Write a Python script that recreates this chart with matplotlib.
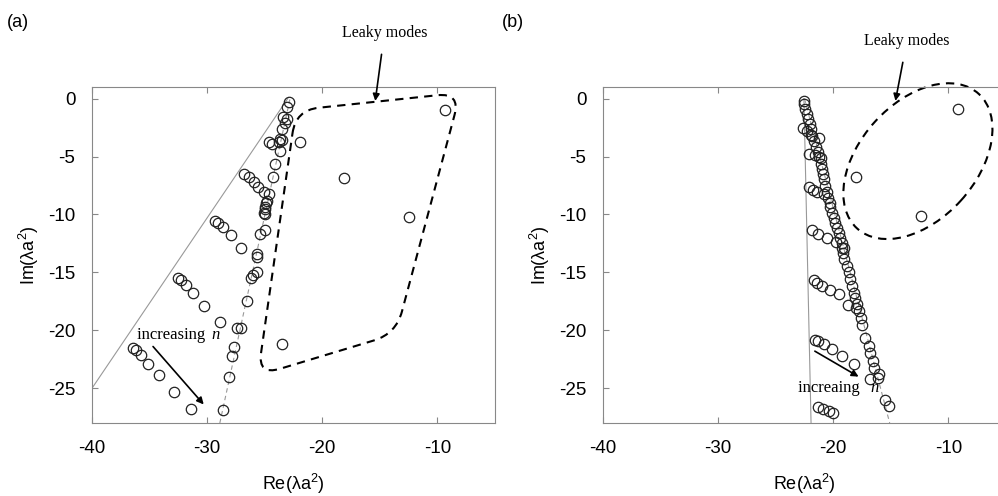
import numpy as np
import matplotlib
matplotlib.use('Agg')
import matplotlib.pyplot as plt
from matplotlib.path import Path
from matplotlib.patches import PathPatch, Ellipse

plt.rcParams['font.family'] = ['Liberation Sans', 'DejaVu Sans']
plt.rcParams['mathtext.fontset'] = 'custom'
plt.rcParams['mathtext.rm'] = 'Liberation Sans'
plt.rcParams['mathtext.it'] = 'Liberation Sans:italic'
plt.rcParams['axes.unicode_minus'] = False

# --- panel (a) eigenvalues ---
re_a = [-36.4, -36.17, -35.74, -35.1, -34.2, -32.9, -31.4,
        -32.5, -32.3, -31.8, -31.2, -30.3, -28.9,
        -29.3, -29.1, -28.6, -27.9, -27.1,
        -26.78, -26.4, -25.97, -25.6, -25.1,
        -24.67, -24.38, -23.8,
        -28.6, -28.1, -27.8, -27.7, -27.4, -27.1, -26.55, -26.2, -26.0, -25.7,
        -25.7, -25.7, -25.4, -25.0, -25.0, -25.0, -24.9, -24.67, -24.8, -24.96,
        -25.1, -24.3, -24.1, -23.7, -23.65, -23.5, -23.5, -23.2, -23.07, -23.4,
        -23.07, -22.93,
        -21.97, -23.5, -9.3, -18.15, -12.5]
im_a = [-21.5, -21.74, -22.15, -22.9, -23.9, -25.3, -26.8,
        -15.46, -15.7, -16.1, -16.8, -17.9, -19.3,
        -10.55, -10.7, -11.1, -11.8, -12.9,
        -6.5, -6.8, -7.24, -7.67, -8.1,
        -3.78, -3.92, -3.78,
        -26.85, -24.0, -22.2, -21.4, -19.8, -19.8, -17.5, -15.5, -15.2, -15.0,
        -13.4, -13.7, -11.7, -11.3, -10.0, -9.5, -9.0, -8.25, -8.8, -9.4,
        -9.84, -6.8, -5.65, -4.5, -3.5, -3.6, -2.6, -2.1, -1.76, -1.6,
        -0.75, -0.32,
        -3.78, -21.2, -0.98, -6.86, -10.2]

# --- panel (b) eigenvalues ---
re_b = [-22.58, -22.52, -22.43, -22.29, -22.23, -22.06, -21.94, -21.85, -21.65, -21.48,
        -21.36, -21.28, -21.07, -20.99, -20.9, -20.84, -20.7, -20.55, -20.5, -20.32,
        -20.26, -20.11, -19.97, -19.83, -19.68, -19.54, -19.39, -19.25, -19.1, -19.16,
        -19.04, -18.81, -18.67, -18.52, -18.37, -18.23, -18.09, -17.94, -17.8, -17.59,
        -17.5, -17.22, -16.93, -16.78, -16.55, -16.5, -16.15, -15.48, -15.2,
        -22.6, -22.3, -21.9, -21.2,
        -22.15, -21.6, -21.1,
        -22.15, -21.8, -21.4, -20.8,
        -21.85, -21.3, -20.55, -19.8, -19.25,
        -21.7, -21.4, -21.0, -20.3, -19.5, -18.7, -18.0,
        -21.6, -21.3, -20.8, -20.1, -19.2, -18.2, -16.8, -16.05,
        -21.3, -20.85, -20.4, -20.0,
        -9.16, -18.06, -12.4]
im_b = [-0.17, -0.46, -0.89, -1.33, -1.76, -2.19, -2.62, -3.2, -3.63, -4.21,
        -4.64, -5.08, -5.65, -6.08, -6.51, -6.95, -7.53, -8.1, -8.54, -8.97,
        -9.4, -9.84, -10.27, -10.7, -11.13, -11.57, -12.0, -12.43, -12.86, -13.3,
        -13.87, -14.45, -15.0, -15.6, -16.2, -16.75, -17.2, -17.76, -18.34, -18.92,
        -19.5, -20.65, -21.37, -21.95, -22.66, -23.24, -24.1, -25.98, -26.56,
        -2.5, -2.8, -3.1, -3.4,
        -4.8, -4.9, -5.1,
        -7.67, -7.87, -8.1, -8.25,
        -11.3, -11.7, -12.0, -12.4, -12.9,
        -15.7, -15.9, -16.2, -16.55, -16.9, -17.8, -18.05,
        -20.8, -20.9, -21.2, -21.65, -22.2, -22.95, -24.2, -23.8,
        -26.6, -26.8, -27.0, -27.1,
        -0.89, -6.8, -10.1]

# guide lines (endpoints)
solid_a = ([-40.0, -23.0], [-25.0, 0.0])
dashed_a = ([-28.9, -22.8], [-28.0, 0.0])
solid_b = ([-22.55, -21.93], [0.0, -28.0])
dashed_b = ([-22.5, -15.1], [0.0, -28.0])

# leaky-mode region in (a): corners of rounded parallelogram
box_a = [(-22.3, -1.0), (-8.0, 0.5), (-13.6, -20.3), (-25.6, -23.9)]


def rounded_polygon(pts, r):
    pts = [np.array(p) for p in pts]
    n = len(pts)
    verts, codes = [], []
    for i in range(n):
        p, v, q = pts[i - 1], pts[i], pts[(i + 1) % n]
        a = v + r * (p - v) / np.linalg.norm(p - v)
        b = v + r * (q - v) / np.linalg.norm(q - v)
        verts += [a, v, b]
        codes += [Path.MOVETO if i == 0 else Path.LINETO, Path.CURVE3, Path.CURVE3]
    verts.append(verts[0])
    codes.append(Path.LINETO)
    return Path(verts, codes)


def style_axes(ax):
    ax.set_xlim(-40, -5)
    ax.set_ylim(-28, 1)
    ax.set_xticks([-40, -30, -20, -10])
    ax.set_yticks([0, -5, -10, -15, -20, -25])
    ax.tick_params(direction='in', top=True, labelsize=13.5, color='#888888',
                   length=4, pad=12)
    for s in ax.spines.values():
        s.set_color('#888888')
    ax.set_xlabel('Re(λa$^2$)', fontsize=13, labelpad=11)
    ax.set_ylabel('Im(λa$^2$)', fontsize=13, labelpad=5)


fig = plt.figure(figsize=(9.98, 4.96), dpi=100)
ax1 = fig.add_axes([0.0922, 0.1472, 0.4038, 0.6774])
ax2 = fig.add_axes([0.6042, 0.1472, 0.4038, 0.6774])

mk = dict(ls='none', marker='o', mfc='none', mec='#222222', ms=7.5, mew=0.9, zorder=3)
serif = dict(family=['Liberation Serif', 'DejaVu Serif'])

# (a)
ax1.plot(*solid_a, color='#999999', lw=0.8)
ax1.plot(*dashed_a, color='#999999', lw=0.8, ls=(0, (4, 3)))
ax1.plot(re_a, im_a, **mk)
ax1.add_patch(PathPatch(rounded_polygon(box_a, 2.0), fill=False, ls=(0, (4, 3)),
                        lw=1.5, ec='black', clip_on=False))
ax1.annotate('Leaky modes', xy=(-15.4, -0.2), xytext=(-14.6, 5.7),
             ha='center', va='center', fontsize=11.5, annotation_clip=False,
             arrowprops=dict(arrowstyle='-|>', color='black', lw=1.2,
                             shrinkA=8, shrinkB=0, mutation_scale=10), **serif)
ax1.text(-36.1, -20.4, 'increasing ', fontsize=12, ha='left', va='center', **serif)
ax1.text(-29.6, -20.4, 'n', fontsize=12, ha='left', va='center', style='italic', **serif)
ax1.annotate('', xy=(-30.3, -26.4), xytext=(-34.7, -21.4),
             arrowprops=dict(arrowstyle='-|>', color='black', lw=1.2, mutation_scale=10,
                             shrinkA=0, shrinkB=0))
style_axes(ax1)

# (b)
ax2.plot(*solid_b, color='#999999', lw=0.8)
ax2.plot(*dashed_b, color='#999999', lw=0.8, ls=(0, (4, 3)))
ax2.plot(re_b, im_b, **mk)
ax2.add_patch(Ellipse((-12.65, -5.4), 15.7, 10.1, angle=47.6, fill=False,
                      ls=(0, (4, 3)), lw=1.5, ec='black', clip_on=False))
ax2.annotate('Leaky modes', xy=(-14.6, -0.2), xytext=(-13.6, 5.0),
             ha='center', va='center', fontsize=11.5, annotation_clip=False,
             arrowprops=dict(arrowstyle='-|>', color='black', lw=1.2,
                             shrinkA=8, shrinkB=0, mutation_scale=10), **serif)
ax2.text(-23.1, -25.0, 'increaing ', fontsize=12, ha='left', va='center', **serif)
ax2.text(-16.8, -25.0, 'n', fontsize=12, ha='left', va='center', style='italic', **serif)
ax2.annotate('', xy=(-17.8, -24.0), xytext=(-21.6, -21.8),
             arrowprops=dict(arrowstyle='-|>', color='black', lw=1.2, mutation_scale=10,
                             shrinkA=0, shrinkB=0))
style_axes(ax2)

fig.text(0.007, 0.955, '(a)', fontsize=13, va='center')
fig.text(0.503, 0.955, '(b)', fontsize=13, va='center')

fig.savefig('out.png', dpi=100)
